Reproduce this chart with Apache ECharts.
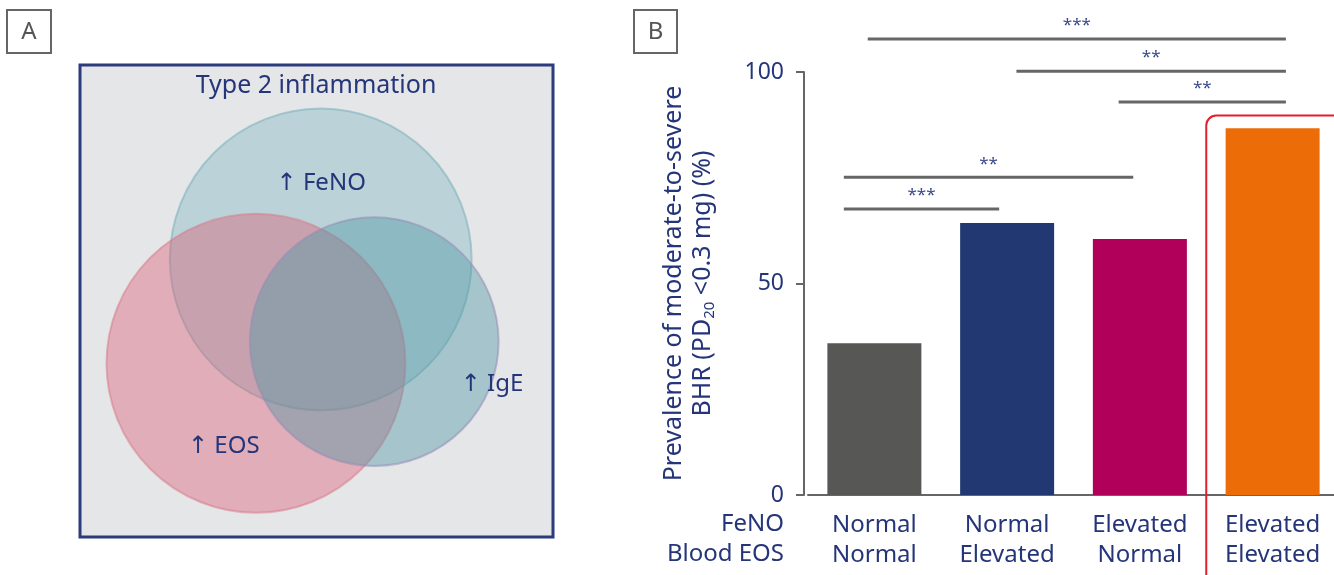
<!DOCTYPE html>
<html>
<head>
<meta charset="utf-8">
<script src="https://cdn.jsdelivr.net/npm/echarts@6/dist/echarts.min.js"></script>
<style>
html,body{margin:0;padding:0;background:#fff;}
#main{width:1334px;height:575px;}
</style>
</head>
<body>
<div id="main"></div>
<script>
// panel B - bars
var categories = ['Normal\nNormal', 'Normal\nElevated', 'Elevated\nNormal', 'Elevated\nElevated'];
var prevalence = [35.9, 64.3, 60.5, 86.7];
var barColors = ['#575756', '#213873', '#b0005a', '#ec6d07'];
var rowLabels = ['FeNO', 'Blood EOS'];

// significance brackets, x in category index units, level in %
var bracketFrom = [-0.05, 1.07, 1.84, -0.23, -0.23];
var bracketTo = [3.10, 3.10, 3.10, 1.95, 0.94];
var bracketLevel = [107.8, 100.2, 92.9, 75.1, 67.6];
var bracketStars = ['***', '**', '**', '**', '***'];

// red box round the last group
var highlightIndex = 3;
var highlightTop = 89.7;

// panel A - venn (units 0-100 of the box)
var vennNames = ['\u2191 FeNO', '\u2191 EOS', '\u2191 IgE'];
var vennCx = [50.9, 37.2, 62.2];
var vennCy = [41.2, 63.2, 58.6];
var vennR = [31.9, 31.6, 26.3];
var vennLabelX = [51, 30.4, 87.1];
var vennLabelY = [25, 80.7, 67.6];
var vennFill = ['rgba(118,178,188,0.38)', 'rgba(218,96,116,0.42)', 'rgba(78,150,165,0.42)'];
var vennStroke = ['rgba(120,175,185,0.55)', 'rgba(215,120,135,0.5)', 'rgba(150,140,180,0.55)'];

var navy = '#25357a';
var font = '"Noto Sans", "DejaVu Sans", sans-serif';

var chart = echarts.init(document.getElementById('main'));

var vennData = [];
for (var i = 0; i < vennCx.length; i++) {
  vennData.push([vennCx[i], vennCy[i], vennR[i], i]);
}
var vennLabels = [];
for (var i = 0; i < vennNames.length; i++) {
  vennLabels.push({value: [vennLabelX[i], vennLabelY[i]], name: vennNames[i]});
}
var brackets = [];
for (var i = 0; i < bracketFrom.length; i++) {
  brackets.push([bracketFrom[i], bracketTo[i], bracketLevel[i], i]);
}

var option = {
  backgroundColor: '#fff',
  animation: false,
  textStyle: {fontFamily: font},
  grid: [
    {left: 80, top: 65, width: 473, height: 472, show: true, backgroundColor: '#e5e6e8',
     borderColor: '#2b3b7c', borderWidth: 3, outerBoundsMode: 'none'},
    {left: 808, top: 72, width: 531, height: 423, outerBoundsMode: 'none'}
  ],
  xAxis: [
    {type: 'category', gridIndex: 1, data: categories,
     axisLine: {onZero: false, lineStyle: {color: '#666', width: 2}},
     axisTick: {alignWithLabel: true, length: 8, lineStyle: {color: '#666', width: 2}},
     axisLabel: {color: navy, fontSize: 24, lineHeight: 30, margin: 15, fontFamily: font}},
    {type: 'value', gridIndex: 1, min: -0.5, max: 3.5, show: false},
    {type: 'value', gridIndex: 0, min: 0, max: 100, show: false}
  ],
  yAxis: [
    {type: 'value', gridIndex: 1, min: 0, max: 100, interval: 50, offset: 4,
     axisLine: {show: true, onZero: false, lineStyle: {color: '#666', width: 2}},
     axisTick: {show: true, length: 8, lineStyle: {color: '#666', width: 2}},
     splitLine: {show: false},
     axisLabel: {color: navy, fontSize: 23, margin: 20, fontFamily: font},
     name: '{t|Prevalence of moderate-to-severe}\n{t|BHR (PD}{s|20}{t| <0.3 mg) (%)}',
     nameLocation: 'middle', nameRotate: 90, nameGap: 87,
     nameTextStyle: {
       rich: {
         t: {fontSize: 25, lineHeight: 29, color: navy, fontFamily: font},
         s: {fontSize: 15, lineHeight: 15, color: navy, verticalAlign: 'bottom', fontFamily: font}
       }
     }},
    {type: 'value', gridIndex: 0, min: 0, max: 100, inverse: true, show: false}
  ],
  graphic: [
    {type: 'rect', shape: {x: 7, y: 10, width: 44, height: 43}, style: {fill: '#fff', stroke: '#666', lineWidth: 2}},
    {type: 'text', style: {text: 'A', x: 29, y: 32, textAlign: 'center', textVerticalAlign: 'middle', fill: '#555', font: '24px ' + font}},
    {type: 'rect', shape: {x: 634, y: 10, width: 43, height: 43}, style: {fill: '#fff', stroke: '#666', lineWidth: 2}},
    {type: 'text', style: {text: 'B', x: 655.5, y: 32, textAlign: 'center', textVerticalAlign: 'middle', fill: '#555', font: '24px ' + font}},
    {type: 'text', style: {text: 'Type 2 inflammation', x: 316, y: 86, textAlign: 'center', textVerticalAlign: 'middle', fill: navy, font: '25px ' + font}, z: 10},
    {type: 'text', style: {text: rowLabels[0], x: 784, y: 524, textAlign: 'right', textVerticalAlign: 'middle', fill: navy, font: '24px ' + font}},
    {type: 'text', style: {text: rowLabels[1], x: 784, y: 554, textAlign: 'right', textVerticalAlign: 'middle', fill: navy, font: '24px ' + font}}
  ],
  series: [
    {
      type: 'custom', xAxisIndex: 2, yAxisIndex: 1, clip: false,
      data: vennData,
      renderItem: function (params, api) {
        var c = api.coord([api.value(0), api.value(1)]);
        var r = api.size([api.value(2), 0])[0];
        var k = api.value(3);
        return {type: 'circle', shape: {cx: c[0], cy: c[1], r: r},
                style: {fill: vennFill[k], stroke: vennStroke[k], lineWidth: 2}};
      }
    },
    {
      type: 'scatter', xAxisIndex: 2, yAxisIndex: 1, symbolSize: 0, z: 5,
      itemStyle: {opacity: 1},
      data: vennLabels,
      label: {show: true, position: 'inside', formatter: '{b}', color: navy, opacity: 1, fontSize: 24, fontFamily: font}
    },
    {
      type: 'bar', xAxisIndex: 0, yAxisIndex: 0, barWidth: 94,
      data: prevalence.map(function (v, i) { return {value: v, itemStyle: {color: barColors[i]}}; })
    },
    {
      type: 'custom', xAxisIndex: 1, yAxisIndex: 0, clip: false, z: 4,
      data: brackets,
      renderItem: function (params, api) {
        var p1 = api.coord([api.value(0), api.value(2)]);
        var p2 = api.coord([api.value(1), api.value(2)]);
        var k = api.value(3);
        return {type: 'group', children: [
          {type: 'line', shape: {x1: p1[0], y1: p1[1], x2: p2[0], y2: p2[1]},
           style: {stroke: '#666', lineWidth: 3}},
          {type: 'text', style: {text: bracketStars[k], x: (p1[0] + p2[0]) / 2, y: p1[1] - 5,
           textAlign: 'center', textVerticalAlign: 'bottom', fill: '#3b4b8c', font: '17px ' + font}}
        ]};
      }
    },
    {
      type: 'custom', xAxisIndex: 1, yAxisIndex: 0, clip: false, z: 4,
      data: [[highlightIndex, highlightTop]],
      renderItem: function (params, api) {
        var tl = api.coord([api.value(0) - 0.5, api.value(1)]);
        var br = api.coord([api.value(0) + 0.6, -30]);
        return {type: 'rect', shape: {x: tl[0], y: tl[1], width: br[0] - tl[0], height: br[1] - tl[1], r: 10},
                style: {fill: 'none', stroke: '#e31e2d', lineWidth: 2}};
      }
    }
  ]
};
chart.setOption(option);
</script>
</body>
</html>
